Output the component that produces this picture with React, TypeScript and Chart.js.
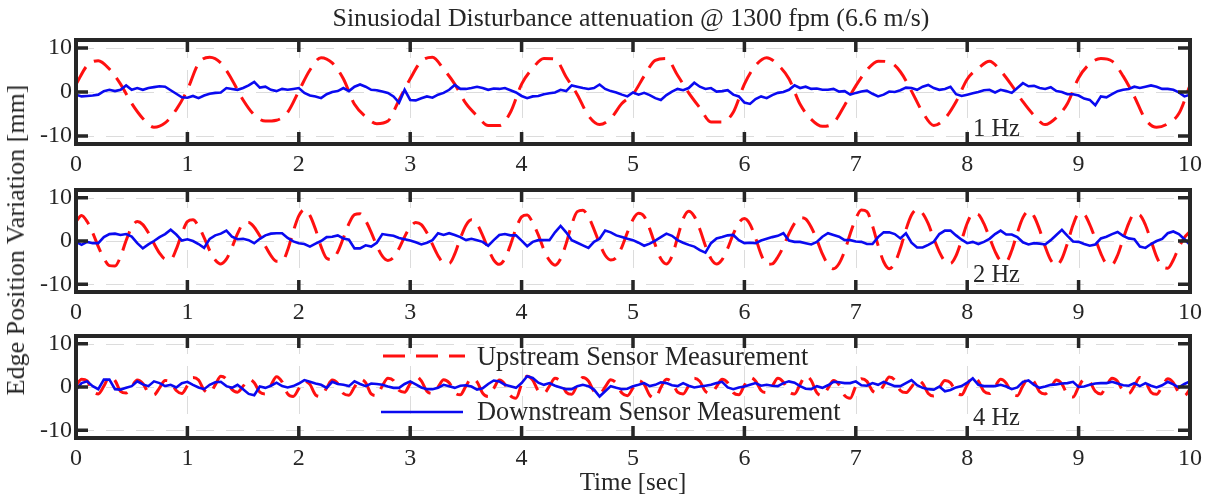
import React, { useEffect, useRef } from "react";
import { Chart, registerables } from "chart.js";

Chart.register(...registerables);

// ---------- data ----------
const X_TICKS = [0, 1, 2, 3, 4, 5, 6, 7, 8, 9, 10];
const Y_TICKS = [-10, 0, 10];
const DT_COARSE = 0.1; // s, panel 1 upstream samples
const DT_FINE = 0.05; // s, other series

// 1 Hz – upstream (0.1 s step)
const P1_UP = [
  1.7, 6.0, 7.1, 5.2, 1.8, -2.6, -6.0, -8.0, -7.0, -4.0,
  0.5, 6.5, 7.9, 6.6, 2.8, -1.8, -5.2, -6.6, -6.4, -4.6,
  0.2, 5.0, 7.8, 6.6, 3.0, -2.8, -5.6, -7.2, -6.6, -1.8,
  3.0, 7.0, 7.9, 5.2, 1.8, -2.6, -5.4, -7.6, -7.6, -4.6,
  1.8, 5.4, 7.6, 7.5, 3.4, -0.6, -5.4, -7.4, -6.0, -2.6,
  -0.5, 3.6, 7.2, 7.6, 3.8, -0.2, -3.6, -6.8, -6.8, -4.6,
  1.8, 6.0, 7.8, 6.2, 3.0, -2.8, -6.2, -7.8, -7.0, -3.0,
  1.4, 5.0, 7.0, 6.8, 4.6, 0.2, -4.6, -7.6, -6.0, -2.2,
  2.9, 5.4, 7.0, 4.8, 1.5, -2.2, -5.3, -7.4, -5.8, -2.6,
  3.2, 6.4, 7.6, 7.0, 3.6, -1.0, -6.2, -8.0, -7.2, -4.9,
  1.5,
];

// 1 Hz – downstream (0.05 s step)
const P1_DOWN = [
  -0.6, -1.0, -0.9, -0.8, -0.6, 0.2, 0.5, 0.2, 0.5, 1.5,
  0.5, 0.9, 0.5, 0.9, 1.1, 1.3, 1.2, 0.4, -0.4, -1.2,
  -1.3, -0.9, -1.4, -0.8, -0.4, -0.2, -0.1, 0.9, 0.7, 0.5,
  0.9, 1.5, 2.3, 1.0, 1.2, 0.5, 0.2, 0.7, 0.5, 0.7,
  0.9, -0.2, -0.8, -1.0, -1.4, -0.5, 0.0, 0.2, 0.9, 0.2,
  1.2, 1.7, 1.2, 0.5, 0.4, 0.1, -0.2, -1.0, -2.4, 0.5,
  -1.8, -1.9, -1.4, -1.0, -1.3, -0.6, -0.2, 0.5, 1.6, 0.7,
  0.7, 0.9, 1.2, 0.9, 0.5, 0.8, 0.7, 0.9, 0.4, -0.1,
  -0.9, -1.4, -1.0, -0.9, -0.5, -0.3, -0.1, 0.5, 0.2, 1.5,
  1.2, 0.9, 0.7, 0.9, 1.7, 0.7, 0.2, -0.1, -0.6, -1.0,
  -0.1, -0.6, -0.2, -0.7, -1.4, -1.8, -0.7, 0.1, 0.7, 0.4,
  0.9, 2.1, 1.2, 0.7, 0.9, 0.1, 0.2, 0.4, -0.6, -1.0,
  -2.4, -2.7, -1.6, -1.0, -1.4, -0.7, -0.2, 0.0, 0.5, 1.5,
  0.9, 1.2, 0.7, 0.8, 0.5, 0.5, 0.7, 0.1, 0.2, -0.6,
  -0.2, 0.1, 0.3, -0.4, -1.0, -0.6, 0.1, 0.0, 0.4, 1.0,
  0.9, 0.5, 1.2, 1.6, 0.9, 0.5, 0.7, 1.2, -0.5, -0.9,
  -0.6, -0.3, 0.0, 0.4, 0.5, -0.1, 0.5, 0.2, -0.2, 0.9,
  2.0, 1.3, 1.4, 0.9, 0.7, 1.1, 0.2, 0.0, -0.5, -0.5,
  -0.8, -1.5, -1.8, -3.0, -1.0, -1.2, -0.5, 0.2, 0.5, 0.7,
  1.2, 0.9, 1.2, 1.5, 1.2, 0.7, 0.7, 0.5, -0.1, -1.0,
  -0.6,
];

// 2 Hz – upstream (0.05 s step)
const P2_UP = [
  4.5, 5.9, 4.5, 1.9, -1.3, -4.0, -5.7, -5.8, -3.6, 0.1,
  3.2, 4.5, 3.8, 1.9, -0.6, -2.8, -4.2, -4.3, -1.9, 1.7,
  4.5, 4.9, 3.4, 0.8, -2.2, -4.4, -5.3, -4.2, -1.5, 1.7,
  4.0, 4.3, 3.2, 1.2, -1.2, -3.4, -4.7, -4.7, -2.1, 2.2,
  5.8, 7.3, 5.9, 2.7, -1.3, -4.0, -4.3, -2.5, 0.7, 4.0,
  6.1, 6.3, 4.7, 2.0, -1.1, -3.5, -4.5, -3.8, -1.7, 1.0,
  3.2, 4.3, 3.8, 1.9, -0.8, -3.4, -5.1, -5.2, -3.0, 0.6,
  3.6, 4.9, 3.9, 1.3, -1.8, -4.4, -5.4, -4.1, -0.9, 2.9,
  5.6, 6.0, 4.2, 1.4, -2.0, -4.5, -5.6, -4.1, -0.6, 3.8,
  6.8, 7.1, 5.6, 2.7, -0.6, -3.3, -4.4, -3.8, -1.4, 2.0,
  5.0, 6.4, 5.7, 2.8, -0.9, -4.1, -5.3, -3.5, 0.8, 5.1,
  6.9, 5.7, 2.7, -1.1, -4.1, -5.3, -4.3, -1.7, 1.6, 4.2,
  5.2, 3.9, 0.7, -3.1, -5.4, -5.3, -3.7, -1.3, 1.7, 4.1,
  5.4, 5.1, 3.2, 0.3, -3.0, -5.4, -6.4, -5.2, -2.3, 1.7,
  5.2, 7.2, 6.8, 3.5, -1.0, -4.8, -6.4, -5.1, -1.7, 2.6,
  6.0, 7.3, 6.4, 4.0, 0.6, -2.5, -4.7, -5.2, -3.4, 0.2,
  4.1, 6.3, 6.1, 4.0, 0.8, -2.4, -4.5, -4.7, -2.2, 1.9,
  5.4, 6.9, 5.7, 2.6, -1.3, -4.4, -5.6, -4.1, -0.5, 3.7,
  6.3, 6.1, 3.8, 0.5, -2.9, -5.2, -5.4, -3.3, 0.5, 4.1,
  6.3, 6.0, 3.7, 0.1, -3.6, -5.9, -6.3, -4.4, -1.5, 0.8,
  2.2,
];

// 2 Hz – downstream (0.05 s step)
const P2_DOWN = [
  -0.2, -0.9, -0.2, -0.5, -0.5, 0.9, 1.6, 1.7, 1.4, 1.6,
  1.0, -0.5, -1.7, -0.8, 0.0, 0.9, 1.6, 2.6, 1.5, 0.1,
  0.4, 0.0, -0.7, -1.6, 0.5, 1.3, 1.7, 2.4, 1.0, 0.4,
  0.5, 0.2, -0.5, 0.5, 1.3, 1.7, 1.8, 1.8, 0.7, -0.1,
  -0.5, -0.7, -1.3, -0.6, 0.0, 0.9, 1.0, 1.3, 0.6, 0.3,
  -1.7, -1.7, -1.0, -1.3, -0.4, 1.6, 1.4, 1.2, 0.7, 0.4,
  0.1, -0.3, -0.8, -0.4, 0.2, 1.8, 1.4, 1.8, 1.4, 0.9,
  0.2, 0.5, 0.2, -0.2, -1.1, 0.2, 1.4, 1.6, 1.3, 1.3,
  0.1, -1.2, -0.2, 0.2, 0.2, 0.2, 2.0, 3.5, 2.0, 0.2,
  -0.4, -1.0, -1.6, -0.2, 0.5, 2.4, 2.0, 1.3, 0.9, 0.5,
  0.2, -0.4, -1.1, -0.6, 0.1, 0.9, 1.7, 1.2, 0.2, -0.4,
  -0.9, -1.3, -2.1, -2.7, -0.5, 0.6, 0.9, 1.3, 1.4, 0.2,
  -0.5, -0.4, -0.5, 0.1, 0.5, 0.9, 1.2, 1.8, 0.1, -0.2,
  -0.2, -0.5, -0.8, -0.2, 1.0, 1.8, 1.4, 1.0, 0.2, 0.2,
  -0.1, -0.2, -0.7, -0.7, 0.9, 2.0, 2.0, 1.6, 0.6, 1.8,
  -0.4, -1.5, -1.5, -0.9, -0.2, 1.6, 2.4, 2.4, 1.3, 0.3,
  -0.5, -0.2, -0.7, -0.2, 0.5, 1.6, 2.4, 1.5, 1.5, 0.9,
  -0.3, -0.8, -0.5, -0.6, -0.8, 0.2, 1.4, 2.6, 1.2, -0.1,
  -0.2, -0.7, -1.1, -0.8, 0.6, 1.0, 1.6, 2.1, 1.2, 0.6,
  0.4, -1.3, -1.6, -0.7, 0.0, 0.5, 1.8, 2.2, 1.6, 0.4,
  -0.9,
];

// 4 Hz – upstream (0.05 s step)
const P3_UP = [
  0.3, 1.8, 1.4, -0.9, -1.6, 0.2, 2.4, 1.5, -1.0, -1.4,
  0.1, 1.6, 0.8, -1.3, -1.8, -0.2, 1.5, 1.1, -0.8, -1.5,
  0.3, 2.2, 1.6, -0.7, -1.4, 0.5, 2.5, 1.8, -0.6, -1.2,
  0.2, 1.8, 1.0, -1.2, -1.6, 0.4, 2.4, 1.2, -1.6, -2.2,
  -0.4, 1.4, 0.6, -1.8, -2.2, -0.2, 1.6, 0.8, -1.5, -1.9,
  0.0, 1.8, 1.0, -1.6, -2.0, 0.3, 2.0, 1.5, -0.8, -1.2,
  0.8, 2.5, 1.4, -1.0, -1.5, 0.0, 1.7, 1.0, -1.3, -1.8,
  0.2, 2.0, 1.2, -1.4, -2.2, -0.3, 1.6, 0.6, -2.0, -2.6,
  0.6, 2.5, 1.6, -0.9, -1.5, 0.2, 2.0, 1.2, -1.2, -1.7,
  0.5, 2.2, 1.4, -1.0, -1.6, 0.0, 1.7, 0.9, -1.4, -2.0,
  -0.2, 1.5, 0.6, -1.9, -2.6, -0.1, 1.8, 1.1, -1.2, -1.6,
  0.3, 2.0, 1.3, -1.0, -1.5, 0.1, 1.8, 1.0, -1.3, -1.8,
  0.4, 2.2, 1.4, -0.8, -1.3, 0.2, 2.0, 1.1, -1.1, -1.6,
  0.6, 2.6, 1.5, -1.3, -2.0, -0.3, 1.5, 0.5, -2.0, -2.6,
  0.2, 1.9, 1.3, -0.9, -1.4, 0.4, 2.3, 1.6, -0.8, -1.3,
  0.0, 1.6, 0.8, -1.5, -2.1, -0.2, 1.5, 1.0, -1.2, -1.8,
  0.5, 2.3, 1.4, -1.0, -1.5, 0.1, 1.8, 0.9, -1.4, -2.0,
  0.3, 2.1, 1.2, -1.1, -1.6, -0.2, 1.6, 0.7, -1.7, -2.3,
  0.0, 1.8, 1.2, -1.0, -1.6, 0.3, 2.0, 1.3, -1.0, -1.5,
  0.2, 2.2, 1.2, -1.2, -1.7, 0.1, 1.9, 1.0, -1.3, -2.0,
  -0.5,
];

// 4 Hz – downstream (0.05 s step)
const P3_DOWN = [
  -0.6, 0.9, 1.3, 0.2, -0.5, 1.7, 1.7, -0.5, -0.6, -0.2,
  0.2, 1.3, 0.6, 0.2, 1.3, 0.9, 0.2, 0.5, -0.1, 0.9,
  1.2, 0.5, -0.1, -0.5, 0.5, 1.1, 1.2, 0.2, -0.2, 0.5,
  -0.5, -1.6, -1.9, 0.1, -0.2, 0.3, 1.0, 0.2, -0.1, 0.2,
  0.8, 1.6, 1.2, 0.8, 0.5, -0.2, 1.2, 0.7, 0.5, 0.2,
  1.3, 0.7, 0.2, 0.8, 0.7, 0.5, 0.1, -0.2, -0.2, 0.7,
  1.3, 0.6, -0.1, -0.5, -0.5, -0.2, 0.5, 0.2, -0.2, 0.3,
  0.4, 0.1, -0.6, -0.3, 0.7, 1.5, 1.3, 0.5, 0.2, -0.2,
  0.9, 2.5, 2.1, 1.0, 0.5, 0.9, 0.3, -0.1, -0.5, -0.5,
  0.2, 0.5, 0.2, -0.6, -2.2, -1.0, 0.2, -0.2, -0.5, -0.4,
  0.2, 0.5, 0.9, 0.2, 0.5, 1.1, 0.9, 0.4, 0.2, 0.9,
  0.3, -0.1, 0.1, 0.3, 0.5, 0.9, 1.2, -0.1, -0.5, -0.1,
  0.1, 0.5, 0.9, 0.3, 0.5, 0.3, 0.2, 0.9, 1.3, 1.0,
  0.2, -0.4, -0.5, 0.2, -0.2, 0.4, 1.2, 1.1, 0.9, 0.9,
  1.3, 0.4, 0.3, 0.9, 0.5, 1.2, 0.7, 0.2, 0.2, 0.9,
  1.6, 0.4, -0.2, -0.5, -0.6, 0.1, -1.0, -0.7, -0.1, 0.2,
  1.0, 2.0, 0.5, 0.2, 0.2, 0.2, 0.5, 0.1, -0.5, -0.1,
  1.2, 1.5, 0.5, -0.2, 0.1, 0.5, 0.6, 0.8, 0.9, 1.2,
  0.0, 0.1, 0.5, 0.8, 0.9, 0.9, 1.2, 0.8, 0.4, 0.3,
  0.9, 0.2, 0.9, 0.3, -0.1, 0.4, 1.2, 0.6, -0.1, 0.7,
  1.3,
];

const TITLE = "Sinusiodal Disturbance attenuation @ 1300 fpm (6.6 m/s)";
const X_TITLE = "Time [sec]";
const Y_TITLE = "Edge Position Variation [mm]";
const UP_LABEL = "Upstream Sensor Measurement";
const DOWN_LABEL = "Downstream Sensor Measurement";
const PANEL_LABELS = ["1 Hz", "2 Hz", "4 Hz"];

// ---------- style / layout ----------
const W = 1209;
const H = 497;
const AREA_LEFT = 76;
const AREA_RIGHT = 1190;
const PAD_TOP = 10;
const XAXIS_H = 36;
const Y_MIN = -11.8;
const Y_MAX = 11.8;
const FONT = '"Liberation Serif", "Times New Roman", serif';
const TEXT = "#262626";
const RED = "#ff1010";
const BLUE = "#0a0af0";
const FRAME = "#262626";
const GRID = "#dcdcdc";

function toPoints(values: number[], dt: number) {
  return values.map((v, i) => ({ x: Math.round(i * dt * 1000) / 1000, y: v }));
}

type PanelProps = {
  top: number;
  bottom: number;
  up: number[];
  upDt: number;
  down: number[];
  downDt: number;
  legend?: boolean;
};

function Panel({ top, bottom, up, upDt, down, downDt, legend }: PanelProps) {
  const ref = useRef<HTMLCanvasElement | null>(null);
  const canvasH = PAD_TOP + (bottom - top) + XAXIS_H;

  useEffect(() => {
    const canvas = ref.current;
    if (!canvas) return;

    const framePlugin = {
      id: "matlabFrame",
      beforeDatasetsDraw(chart: any) {
        const { ctx, chartArea: a, scales } = chart;
        const xs = scales.x;
        const ys = scales.y;
        ctx.save();
        ctx.strokeStyle = GRID;
        ctx.lineWidth = 1;
        ctx.setLineDash([18, 12]);
        X_TICKS.slice(1, -1).forEach((v) => {
          const px = Math.round(xs.getPixelForValue(v)) + 0.5;
          ctx.beginPath();
          ctx.moveTo(px, a.top);
          ctx.lineTo(px, a.bottom);
          ctx.stroke();
        });
        Y_TICKS.forEach((v) => {
          const py = Math.round(ys.getPixelForValue(v)) + 0.5;
          ctx.beginPath();
          ctx.moveTo(a.left, py);
          ctx.lineTo(a.right, py);
          ctx.stroke();
        });
        ctx.restore();
      },
      afterDatasetsDraw(chart: any) {
        const { ctx, chartArea: a, scales } = chart;
        const xs = scales.x;
        const ys = scales.y;
        ctx.save();
        ctx.setLineDash([]);
        ctx.strokeStyle = FRAME;
        // tick marks (inward)
        ctx.lineWidth = 3.5;
        const TL = 12;
        X_TICKS.slice(1, -1).forEach((v) => {
          const px = xs.getPixelForValue(v);
          ctx.beginPath();
          ctx.moveTo(px, a.top);
          ctx.lineTo(px, a.top + TL);
          ctx.moveTo(px, a.bottom);
          ctx.lineTo(px, a.bottom - TL);
          ctx.stroke();
        });
        Y_TICKS.forEach((v) => {
          const py = ys.getPixelForValue(v);
          ctx.beginPath();
          ctx.moveTo(a.left, py);
          ctx.lineTo(a.left + TL, py);
          ctx.moveTo(a.right, py);
          ctx.lineTo(a.right - TL, py);
          ctx.stroke();
        });
        // box
        ctx.lineWidth = 4;
        ctx.lineJoin = "miter";
        ctx.strokeRect(a.left, a.top, a.right - a.left, a.bottom - a.top);

        if (legend) {
          ctx.lineCap = "butt";
          ctx.strokeStyle = RED;
          ctx.lineWidth = 3;
          ctx.setLineDash([22, 11]);
          ctx.beginPath();
          ctx.moveTo(383, a.top + 20);
          ctx.lineTo(465, a.top + 20);
          ctx.stroke();
          ctx.setLineDash([]);
          ctx.strokeStyle = BLUE;
          ctx.lineWidth = 2.6;
          ctx.beginPath();
          ctx.moveTo(381, a.top + 76);
          ctx.lineTo(463, a.top + 76);
          ctx.stroke();
        }
        ctx.restore();
      },
    };

    const tickFont = { family: FONT, size: 24 };

    const chart = new Chart(canvas, {
      type: "line",
      data: {
        datasets: [
          {
            label: UP_LABEL,
            data: toPoints(up, upDt),
            borderColor: RED,
            borderWidth: 3,
            borderDash: [20, 10],
            pointRadius: 0,
            cubicInterpolationMode: "monotone",
            fill: false,
            order: 1,
          },
          {
            label: DOWN_LABEL,
            data: toPoints(down, downDt),
            borderColor: BLUE,
            borderWidth: 2.6,
            pointRadius: 0,
            tension: 0,
            fill: false,
            order: 0,
          },
        ],
      } as any,
      options: {
        animation: false,
        responsive: false,
        events: [],
        layout: { padding: { top: PAD_TOP, right: W - AREA_RIGHT, left: 0, bottom: 0 } },
        plugins: { legend: { display: false }, tooltip: { enabled: false }, title: { display: false } },
        scales: {
          x: {
            type: "linear",
            min: 0,
            max: 10,
            afterBuildTicks: (s: any) => {
              s.ticks = X_TICKS.map((v) => ({ value: v }));
            },
            afterFit: (s: any) => {
              s.height = XAXIS_H;
              s.paddingLeft = 0;
              s.paddingRight = 0;
            },
            grid: { display: false, drawTicks: false },
            border: { display: false },
            ticks: { font: tickFont, color: TEXT, padding: 6, maxRotation: 0, autoSkip: false },
          },
          y: {
            type: "linear",
            min: Y_MIN,
            max: Y_MAX,
            afterBuildTicks: (s: any) => {
              s.ticks = Y_TICKS.map((v) => ({ value: v }));
            },
            afterFit: (s: any) => {
              s.width = AREA_LEFT;
              s.paddingTop = 0;
              s.paddingBottom = 0;
            },
            grid: { display: false, drawTicks: false },
            border: { display: false },
            ticks: { font: tickFont, color: TEXT, padding: 4, autoSkip: false },
          },
        },
      } as any,
      plugins: [framePlugin as any],
    });
    return () => chart.destroy();
  }, []);

  return (
    <canvas
      ref={ref}
      width={W}
      height={canvasH}
      style={{ position: "absolute", left: 0, top: top - PAD_TOP, width: W, height: canvasH }}
    />
  );
}

function Label({
  text,
  left,
  baseline,
  size,
  center,
}: {
  text: string;
  left: number;
  baseline: number;
  size: number;
  center?: boolean;
}) {
  return (
    <div
      style={{
        position: "absolute",
        left,
        top: baseline - 0.8375 * size,
        fontFamily: FONT,
        fontSize: size,
        lineHeight: `${size}px`,
        color: TEXT,
        whiteSpace: "nowrap",
        transform: center ? "translateX(-50%)" : undefined,
      }}
    >
      {text}
    </div>
  );
}

export default function App() {
  const ySize = 26;
  return (
    <div
      style={{
        position: "absolute",
        left: 0,
        top: 0,
        width: W,
        height: H,
        background: "#ffffff",
        overflow: "hidden",
      }}
    >
      <Panel top={40} bottom={144} up={P1_UP} upDt={DT_COARSE} down={P1_DOWN} downDt={DT_FINE} />
      <Panel top={190} bottom={292} up={P2_UP} upDt={DT_FINE} down={P2_DOWN} downDt={DT_FINE} />
      <Panel top={336} bottom={438} up={P3_UP} upDt={DT_FINE} down={P3_DOWN} downDt={DT_FINE} legend />

      <Label text={TITLE} left={631} baseline={27} size={25.8} center />
      <Label text={X_TITLE} left={633} baseline={490} size={25} center />
      <Label text={PANEL_LABELS[0]} left={973} baseline={137} size={24.5} />
      <Label text={PANEL_LABELS[1]} left={973} baseline={283} size={24.5} />
      <Label text={PANEL_LABELS[2]} left={973} baseline={426} size={24.5} />
      <Label text={UP_LABEL} left={477} baseline={365} size={26.4} />
      <Label text={DOWN_LABEL} left={477} baseline={420} size={26.4} />

      <div
        style={{
          position: "absolute",
          left: 16,
          top: 240,
          fontFamily: FONT,
          fontSize: ySize,
          lineHeight: `${ySize}px`,
          color: TEXT,
          whiteSpace: "nowrap",
          transform: "translate(-50%, -50%) rotate(-90deg)",
        }}
      >
        {Y_TITLE}
      </div>
    </div>
  );
}
